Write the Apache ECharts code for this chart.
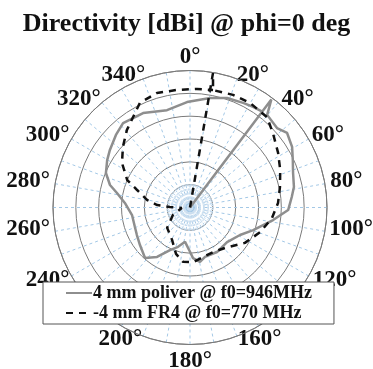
<!DOCTYPE html>
<html>
<head>
<meta charset="utf-8">
<script src="https://cdn.jsdelivr.net/npm/echarts@6/dist/echarts.min.js"></script>
<style>
  html, body { margin: 0; padding: 0; background: #fff; }
  #chart { width: 373px; height: 369px; }
</style>
</head>
<body>
<div id="chart"></div>
<script>
  // angle ticks shown around the rim
  let angleLabels = ['0°', '20°', '40°', '60°', '80°', '100°', '120°', '140°', '160°', '180°',
    '200°', '220°', '240°', '260°', '280°', '300°', '320°', '340°']

  // 4 mm poliver @ f0=946MHz  (angle deg, directivity dBi)
  let poliverAngle = [37, 37, 39.8, 47.6, 52.5, 59.3, 65.2, 71.5, 78.8, 84.1, 91.5, 98.6, 109.7, 118.8,
    133, 148.8, 163.1, 169.6, 176.6, 180, 188.2, 196.9, 205.2, 213.7, 221.7, 233.1, 242.6, 250.5,
    262.6, 274, 281.2, 285.7, 292.3, 299.8, 305.7, 314.4, 321.6, 333.6, 346.7, 358.4, 10.4, 18.7,
    26.9, 32.1, 37]
  let poliverDir = [-20, 9.6, 6.4, 5.8, 6.8, 6.0, 4.8, 3.8, 3.2, 2.4, 1.5, -1.6, -5.3, -7.5,
    -8.9, -8.6, -8.7, -7.9, -8.9, -10.3, -12.4, -11.0, -9.7, -7.0, -5.2, -6.3, -6.9, -7.2,
    -7.2, -5.7, -3.7, -1.8, -0.1, 0.9, 1.6, 2.7, 3.6, 3.1, 1.9, 3.1, 4.4, 5.3,
    5.7, 6.0, 6.3]

  // 4 mm FR4 @ f0=770 MHz
  let fr4Angle = [9.7, 9.7, 11.1, 20.9, 29.9, 40.4, 48.1, 58.2, 67.4, 77.2, 87.1, 97.3, 109.3, 122.8,
    139.2, 152.7, 165.3, 176.8, 187.3, 196.8, 209, 228.3, 246.2, 266.4, 271.4, 274.3, 279.9,
    288.3, 293.6, 303.2, 312.1, 320.9, 334.4, 343.9, 353.7, 3.4, 11.1]
  let fr4Dir = [-20, 9.9, 6.2, 6.4, 6.4, 6.0, 4.4, 2.7, 1.4, 0.2, -0.7, -1.9, -3.7, -5.7,
    -8.3, -9.0, -8.8, -8.0, -8.0, -9.4, -11.9, -13.3, -15.9, -18.2, -15.6, -12.8, -10.5,
    -7.8, -5.0, -2.2, -0.2, 1.9, 5.4, 6.1, 5.9, 6.0, 6.2]

  let seriesNames = ['4 mm poliver @ f0=946MHz', '-4 mm FR4 @ f0=770 MHz']

  // per-label padding [top, right, bottom, left] to nudge rim labels like the original plot
  // (140° and 220° sit under the legend box, as in the original)
  let labelPad = [
    [0, 0, 17, 0], [0, 0, 6, 5], [0, 0, 3, 13], [0, 0, 0, 16], [0, 0, 10, 20], [1, 0, 0, 19],
    [0, 0, 0, 17], [0, 0, 0, 10], [5, 0, 0, 6], [20, 0, 0, 0], [5, 6, 0, 0], [0, 10, 0, 0],
    [0, 15, 0, 0], [1, 20, 0, 0], [0, 20, 10, 0], [0, 15, 0, 0], [0, 11, 3, 0], [0, 3, 6, 0]
  ]

  function zip(r, a) {
    return r.map((v, i) => [v, a[i]])
  }

  let serif = '"Liberation Serif", "Times New Roman", serif'
  let rich = {}
  labelPad.forEach((p, i) => {
    rich['l' + i] = { padding: p, fontFamily: serif, fontWeight: 'bold', fontSize: 23, color: '#111' }
  })

  let myChart = echarts.init(document.getElementById('chart'))
  const option = {
    animation: false,
    title: {
      text: 'Directivity [dBi] @ phi=0 deg',
      left: 'center',
      top: 6,
      textStyle: { fontFamily: serif, fontWeight: 'bold', fontSize: 26, color: '#111' }
    },
    legend: {
      orient: 'vertical',
      left: 43,
      top: 282,
      z: 20,
      padding: [2, 22, 2, 22],
      itemGap: 2,
      itemWidth: 26,
      itemHeight: 14,
      backgroundColor: '#fff',
      borderColor: '#555',
      borderWidth: 1,
      borderRadius: 0,
      itemStyle: { opacity: 0 },
      data: seriesNames,
      textStyle: { fontFamily: serif, fontWeight: 'bold', fontSize: 18, color: '#111', padding: [0, 0, 0, -4] }
    },
    polar: [
      { center: [190, 207.5], radius: 137 },
      { center: [190, 207.5], radius: 23 }
    ],
    angleAxis: [
      {
        polarIndex: 0,
        type: 'value',
        min: 0,
        max: 360,
        interval: 10,
        startAngle: 90,
        clockwise: true,
        axisLine: { lineStyle: { color: '#7a7a7a', width: 1 } },
        axisTick: { show: false },
        axisLabel: {
          margin: -15,
          fontFamily: serif,
          fontWeight: 'bold',
          fontSize: 23,
          color: '#111',
          rich: rich,
          formatter: v => (v % 20 === 0 && v < 360) ? '{l' + (v / 20) + '|' + angleLabels[v / 20] + '}' : ''
        },
        splitLine: { lineStyle: { color: '#a3c8e6', type: [3, 3], width: 1 } }
      },
      {
        polarIndex: 1,
        type: 'value',
        min: 0,
        max: 360,
        interval: 5,
        startAngle: 90,
        clockwise: true,
        axisLine: { show: false },
        axisTick: { show: false },
        axisLabel: { show: false },
        splitLine: { lineStyle: { color: '#c9ddef', type: [2, 2], width: 1 } }
      }
    ],
    radiusAxis: [
      {
        polarIndex: 0,
        min: -20,
        max: 10,
        interval: 5,
        axisLine: { show: false },
        axisTick: { show: false },
        axisLabel: { show: false },
        splitLine: { lineStyle: { color: '#7a7a7a', width: 1 } }
      },
      {
        polarIndex: 1,
        min: 0,
        max: 1,
        interval: 0.2,
        axisLine: { show: false },
        axisTick: { show: false },
        axisLabel: { show: false },
        splitLine: { lineStyle: { color: '#b3d0e8', type: [2, 2], width: 1 } }
      }
    ],
    series: [
      {
        name: seriesNames[0],
        type: 'line',
        coordinateSystem: 'polar',
        polarIndex: 0,
        symbol: 'none',
        z: 3,
        lineStyle: { color: '#8e8e8e', width: 2.5 },
        itemStyle: { color: '#8e8e8e' },
        data: zip(poliverDir, poliverAngle)
      },
      {
        name: seriesNames[1],
        type: 'line',
        coordinateSystem: 'polar',
        polarIndex: 0,
        symbol: 'none',
        z: 4,
        lineStyle: { color: '#111', width: 2.5, type: [7, 6] },
        itemStyle: { color: '#111' },
        data: zip(fr4Dir, fr4Angle)
      }
    ]
  }
  myChart.setOption(option)
</script>
</body>
</html>
